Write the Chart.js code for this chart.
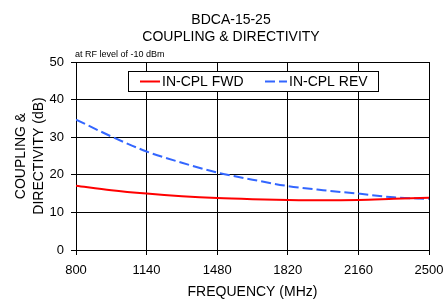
<!DOCTYPE html>
<html>
<head>
<meta charset="utf-8">
<title>BDCA-15-25 Coupling & Directivity</title>
<script src="https://cdn.jsdelivr.net/npm/chart.js@4.4.1/dist/chart.umd.min.js"></script>
<style>
  html, body { margin: 0; padding: 0; background: #fff; }
  #wrap { width: 445px; height: 301px; }
</style>
</head>
<body>
<div id="wrap"><canvas id="myChart" width="445" height="301"></canvas></div>
<script>
// values
const frequencies = [800, 970, 1140, 1310, 1480, 1650, 1820, 1990, 2160, 2330, 2500];
const cplFwd = [17.1, 15.9, 15.0, 14.3, 13.8, 13.5, 13.3, 13.2, 13.3, 13.6, 13.9];
const cplRev = [34.7, 30.2, 26.2, 23.2, 20.6, 18.7, 17.0, 15.9, 15.0, 14.0, 13.6];
const titleLines = ['BDCA-15-25', 'COUPLING & DIRECTIVITY'];
const noteText = 'at RF level of -10 dBm';
const seriesNames = ['IN-CPL FWD', 'IN-CPL REV'];

const FONT = "'Liberation Sans', Arial, sans-serif";
const RED = '#ff0000';
const BLUE = '#3366ff';

// titles, note and the boxed legend inside the plot
const extraText = {
  id: 'extraText',
  afterDraw(chart) {
    const ctx = chart.ctx;
    ctx.save();
    ctx.fillStyle = '#000';
    ctx.textAlign = 'center';
    ctx.textBaseline = 'middle';
    ctx.font = '14px ' + FONT;
    ctx.fillText(titleLines[0], 231, 20);
    ctx.fillText(titleLines[1], 231, 37);

    ctx.textAlign = 'left';
    ctx.font = '9px ' + FONT;
    ctx.fillText(noteText, 75, 55);

    // legend box
    ctx.fillStyle = '#fff';
    ctx.fillRect(128.5, 71.5, 250, 20);
    ctx.strokeStyle = '#000';
    ctx.lineWidth = 1;
    ctx.strokeRect(128.5, 71.5, 250, 20);

    const ds = chart.data.datasets;
    const items = [
      { x: 140, len: 20, tx: 162 },
      { x: 265, len: 22, tx: 289 }
    ];
    ctx.font = '14px ' + FONT;
    items.forEach((it, i) => {
      ctx.beginPath();
      ctx.strokeStyle = ds[i].borderColor;
      ctx.lineWidth = 2;
      ctx.setLineDash(ds[i].borderDash || []);
      ctx.moveTo(it.x, 81.5);
      ctx.lineTo(it.x + it.len, 81.5);
      ctx.stroke();
      ctx.setLineDash([]);
      ctx.fillStyle = '#000';
      ctx.fillText(ds[i].label, it.tx, 82);
    });
    ctx.restore();
  }
};

new Chart(document.getElementById('myChart'), {
  type: 'line',
  data: {
    datasets: [
      {
        label: seriesNames[0],
        data: frequencies.map((f, i) => ({ x: f, y: cplFwd[i] })),
        borderColor: RED,
        borderWidth: 2,
        pointRadius: 0,
        cubicInterpolationMode: 'monotone',
        fill: false
      },
      {
        label: seriesNames[1],
        data: frequencies.map((f, i) => ({ x: f, y: cplRev[i] })),
        borderColor: BLUE,
        borderWidth: 2,
        borderDash: [10, 4],
        pointRadius: 0,
        cubicInterpolationMode: 'monotone',
        fill: false
      }
    ]
  },
  options: {
    responsive: false,
    animation: false,
    layout: { padding: { top: 62, right: 16, left: 0, bottom: 0 } },
    plugins: {
      legend: { display: false },
      title: { display: false },
      tooltip: { enabled: false }
    },
    scales: {
      x: {
        type: 'linear',
        min: 800,
        max: 2500,
        afterFit: (s) => {
          s.height = 51;
          s.paddingLeft = 0;
          s.paddingRight = 14; // let the layout padding decide the right edge
        },
        ticks: {
          stepSize: 340,
          color: '#000',
          padding: 8,
          maxRotation: 0,
          callback: (v) => String(v),
          font: { family: FONT, size: 13 }
        },
        grid: { color: '#000', lineWidth: 1, tickLength: 5 },
        border: { color: '#000', width: 1 },
        title: {
          display: true,
          text: 'FREQUENCY (MHz)',
          color: '#000',
          padding: { top: 0, bottom: 0 },
          font: { family: FONT, size: 14, lineHeight: 1.2 }
        }
      },
      y: {
        min: 0,
        max: 50,
        afterFit: (s) => { s.width = 76; },
        ticks: {
          stepSize: 10,
          color: '#000',
          padding: 7,
          font: { family: FONT, size: 13 }
        },
        grid: { color: '#000', lineWidth: 1, tickLength: 5 },
        border: { color: '#000', width: 1 },
        title: {
          display: true,
          text: ['COUPLING &', 'DIRECTIVITY (dB)'],
          color: '#000',
          padding: { top: 12, bottom: 0 },
          font: { family: FONT, size: 14, lineHeight: 1.29 }
        }
      }
    }
  },
  plugins: [extraText]
});
</script>
</body>
</html>
